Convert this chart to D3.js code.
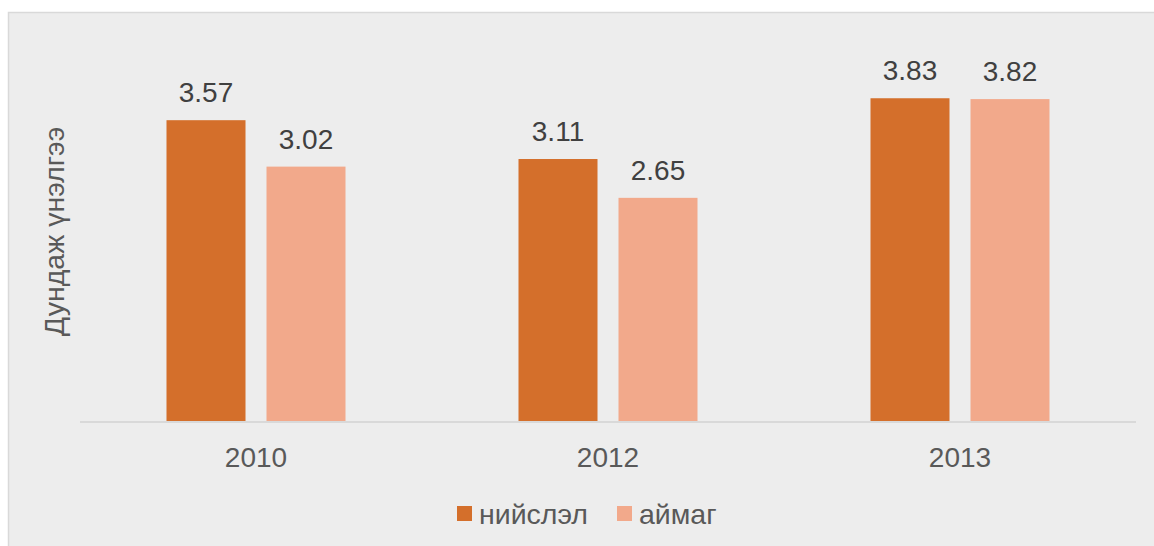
<!DOCTYPE html>
<html>
<head>
<meta charset="utf-8">
<title>Дундаж үнэлгээ</title>
<style>
    body { margin: 0; background: #fff; }
    svg { font-family: "Liberation Sans", Arial, sans-serif; display: block; }
</style>
</head>
<body>
<svg width="1154" height="546"></svg>
<script src="https://d3js.org/d3.v7.min.js"></script>
<script>

    var years = ["2010", "2012", "2013"];
    var seriesNames = ["нийслэл", "аймаг"];
    var niislel = [3.57, 3.11, 3.83];
    var aimag = [3.02, 2.65, 3.82];
    var colors = ["#d46f2b", "#f2a98b"];

    var svg = d3.select("svg"),
        width = +svg.attr("width"),
        height = +svg.attr("height");

    // chart area background + border
    svg.append("rect")
        .attr("x", 8.5).attr("y", 12.5)
        .attr("width", width + 10).attr("height", height + 10)
        .attr("fill", "#ededed")
        .attr("stroke", "#d9d9d9")
        .attr("stroke-width", 1.5);

    var base = 421.5;

    var x0 = d3.scaleBand()
        .domain(years)
        .range([80, 1136])
        .paddingInner(1 - 179 / 352)
        .paddingOuter((1 - 179 / 352) / 2);

    var x1 = d3.scaleBand()
        .domain(seriesNames)
        .range([0, x0.bandwidth()])
        .paddingInner(0.21);

    var y = d3.scaleLinear()
        .domain([0, 4])
        .range([base, base - 4 * 84.4]);

    var rows = years.map(function(yr, i) {
        return { year: yr, values: [niislel[i], aimag[i]] };
    });

    var group = svg.selectAll("g.year")
        .data(rows)
        .enter().append("g")
        .attr("class", "year")
        .attr("transform", function(d) { return "translate(" + x0(d.year) + ",0)"; });

    var bar = group.selectAll("g.bar")
        .data(function(d) { return d.values.map(function(v, j) { return { name: seriesNames[j], value: v, j: j }; }); })
        .enter().append("g")
        .attr("class", "bar");

    bar.append("rect")
        .attr("x", function(d) { return x1(d.name); })
        .attr("y", function(d) { return y(d.value); })
        .attr("width", x1.bandwidth())
        .attr("height", function(d) { return base - y(d.value); })
        .attr("fill", function(d) { return colors[d.j]; });

    bar.append("text")
        .attr("x", function(d) { return x1(d.name) + x1.bandwidth() / 2; })
        .attr("y", function(d) { return y(d.value) - 18; })
        .attr("text-anchor", "middle")
        .attr("font-size", 28)
        .attr("fill", "#404040")
        .text(function(d) { return d3.format(".2f")(d.value); });

    // baseline
    svg.append("line")
        .attr("x1", 80).attr("x2", 1136)
        .attr("y1", base + 0.5).attr("y2", base + 0.5)
        .attr("stroke", "#d9d9d9")
        .attr("stroke-width", 2);

    // category labels
    svg.selectAll("text.cat")
        .data(years)
        .enter().append("text")
        .attr("class", "cat")
        .attr("x", function(d) { return x0(d) + x0.bandwidth() / 2; })
        .attr("y", base + 45.5)
        .attr("text-anchor", "middle")
        .attr("font-size", 28)
        .attr("fill", "#595959")
        .text(function(d) { return d; });

    // y axis title
    svg.append("text")
        .attr("transform", "translate(64,231.5) rotate(-90)")
        .attr("text-anchor", "middle")
        .attr("font-size", 28.5)
        .attr("fill", "#595959")
        .text("Дундаж үнэлгээ");

    // legend
    var legendX = [457, 617];
    var legend = svg.selectAll("g.legend")
        .data(seriesNames)
        .enter().append("g")
        .attr("class", "legend")
        .attr("transform", function(d, i) { return "translate(" + legendX[i] + ",506)"; });

    legend.append("rect")
        .attr("width", 15).attr("height", 15)
        .attr("fill", function(d, i) { return colors[i]; });

    legend.append("text")
        .attr("x", 22)
        .attr("y", 17.5)
        .attr("font-size", 28.5)
        .attr("fill", "#595959")
        .text(function(d) { return d; });

</script>
</body>
</html>
